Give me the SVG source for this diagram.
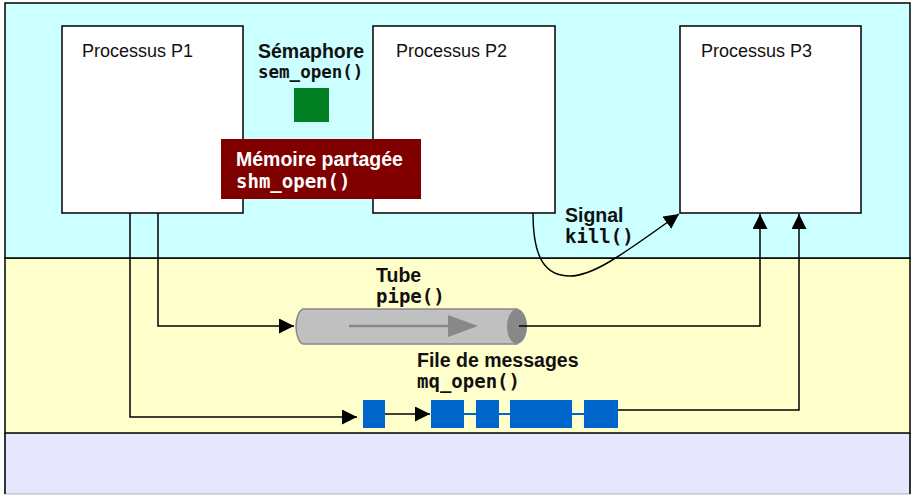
<svg xmlns="http://www.w3.org/2000/svg" width="914" height="495" viewBox="0 0 914 495">
  <style>
    .proc { fill: #ffffff; stroke: #000000; stroke-width: 1.5; }
    .ptitle { font-family: "Liberation Sans", Arial, sans-serif; font-size: 18px; fill: #111111; }
    .blabel { font-family: "Liberation Sans", Arial, sans-serif; font-weight: bold; font-size: 19.5px; fill: #111111; }
    .mono { font-family: "DejaVu Sans Mono", "Liberation Mono", monospace; font-weight: bold; font-size: 19px; fill: #111111; }
    .white { fill: #ffffff; }
    .wire { fill: none; stroke: #000000; stroke-width: 1.5; }
    .msg { fill: #0066cc; }
    .link { stroke: #0066cc; stroke-width: 2; }
  </style>
  <defs>
    <marker id="arrow" viewBox="0 0 10 10" refX="10" refY="5" markerWidth="15" markerHeight="15" markerUnits="userSpaceOnUse" orient="auto">
      <path d="M0,0 L10,5 L0,10 Z" fill="#000000"/>
    </marker>
  </defs>

  <!-- Background zones -->
  <g id="zones">
    <rect x="5" y="433" width="905" height="61" fill="#e6e6ff" stroke="#b0b0c0" stroke-width="1"/>
    <line x1="5" y1="433" x2="5" y2="494" stroke="#333333" stroke-width="2"/>
    <line x1="910" y1="433" x2="910" y2="494" stroke="#333333" stroke-width="2"/>
    <rect x="5" y="258" width="905" height="175" fill="#ffffcc" stroke="#000000" stroke-width="1.5"/>
    <rect x="5" y="3" width="905" height="255" fill="#ccffff" stroke="#000000" stroke-width="1.5"/>
  </g>

  <!-- Processes -->
  <g id="p1">
    <rect class="proc" x="62" y="26" width="181" height="187"/>
    <text class="ptitle" x="82" y="57">Processus P1</text>
  </g>
  <g id="p2">
    <rect class="proc" x="373" y="26" width="182" height="187"/>
    <text class="ptitle" x="396" y="57">Processus P2</text>
  </g>
  <g id="p3">
    <rect class="proc" x="680" y="26" width="181" height="187"/>
    <text class="ptitle" x="701" y="57">Processus P3</text>
  </g>

  <!-- Semaphore -->
  <g id="semaphore">
    <text class="blabel" x="258" y="58">Sémaphore</text>
    <text class="mono" x="258" y="78" style="font-size:17.5px">sem_open()</text>
    <rect x="294" y="88" width="35" height="34" fill="#008020"/>
  </g>

  <!-- Shared memory -->
  <g id="shm">
    <rect x="221" y="139" width="200" height="60" fill="#800000"/>
    <text class="blabel white" x="236" y="166">Mémoire partagée</text>
    <text class="mono white" x="236" y="188">shm_open()</text>
  </g>

  <!-- Pipe -->
  <g id="pipe">
    <text class="blabel" x="376" y="282">Tube</text>
    <text class="mono" x="376" y="303">pipe()</text>
    <path d="M304,309 L517,309 L517,344 L304,344 A8,17.5 0 0 1 304,309 Z" fill="#c0c0c0" stroke="#888888" stroke-width="1.5"/>
    <ellipse cx="517" cy="326.5" rx="10" ry="17.5" fill="#888888"/>
    <line x1="349" y1="326" x2="452" y2="326" stroke="#888888" stroke-width="2.5"/>
    <path d="M448,315 L478,326 L448,337 Z" fill="#888888"/>
  </g>

  <!-- Message queue -->
  <g id="mqueue">
    <text class="blabel" x="417" y="367">File de messages</text>
    <text class="mono" x="417" y="388">mq_open()</text>
    <line class="link" x1="464" y1="414" x2="476" y2="414"/>
    <line class="link" x1="499" y1="414" x2="510" y2="414"/>
    <line class="link" x1="572" y1="414" x2="584" y2="414"/>
    <rect class="msg" x="363" y="400" width="22" height="28"/>
    <rect class="msg" x="431" y="400" width="33" height="28"/>
    <rect class="msg" x="476" y="400" width="23" height="28"/>
    <rect class="msg" x="510" y="400" width="62" height="28"/>
    <rect class="msg" x="584" y="400" width="34" height="28"/>
  </g>

  <!-- Signal label -->
  <g id="signal">
    <text class="blabel" x="565" y="222">Signal</text>
    <text class="mono" x="565" y="243">kill()</text>
  </g>

  <!-- Connectors -->
  <g id="connectors">
    <path class="wire" d="M158,213 L158,326 L294,326" marker-end="url(#arrow)"/>
    <path class="wire" d="M130,213 L130,417 L357,417" marker-end="url(#arrow)"/>
    <path class="wire" d="M385,414 L430,414" marker-end="url(#arrow)"/>
    <path class="wire" d="M519,326 L760,326 L760,214" marker-end="url(#arrow)"/>
    <path class="wire" d="M618,410 L799,410 L799,214" marker-end="url(#arrow)"/>
    <path class="wire" d="M533,213 C533,258 545,276 570,276 C592,276 618,258 679,214" marker-end="url(#arrow)"/>
  </g>
</svg>
